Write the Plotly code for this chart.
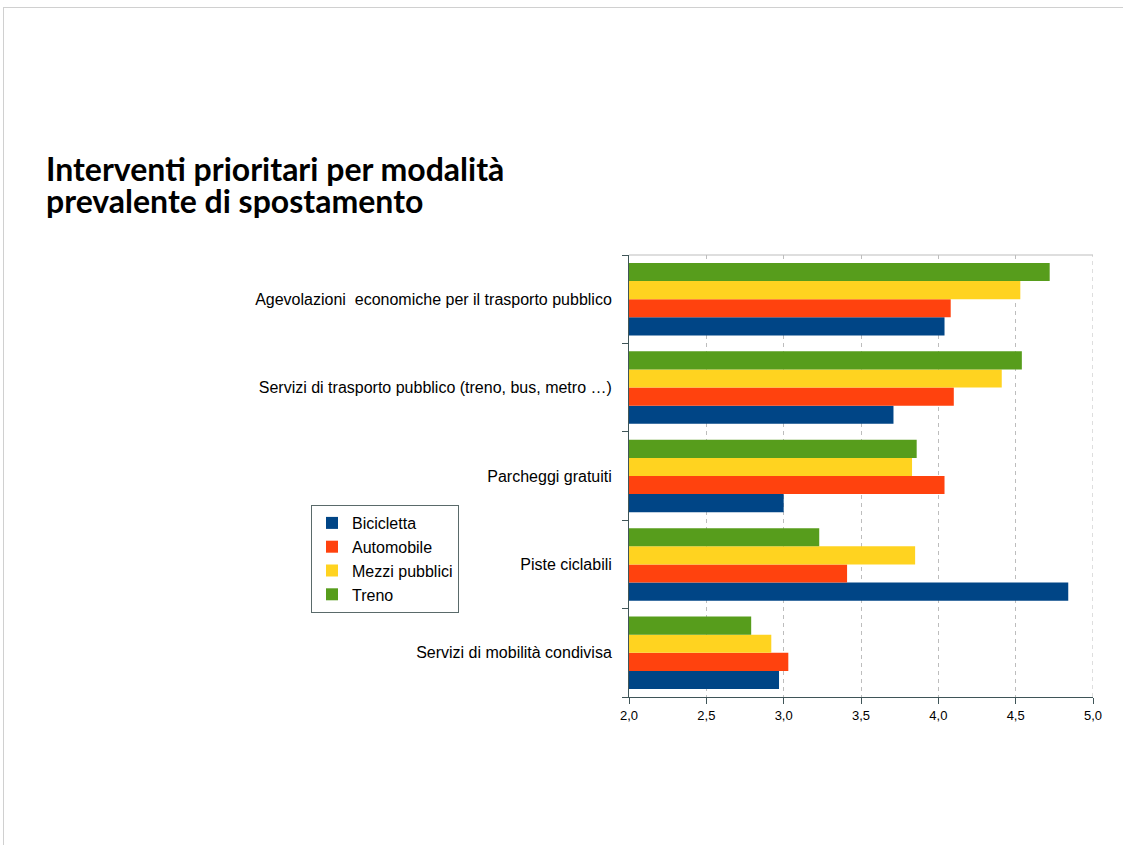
import plotly.graph_objects as go

categories = [
    "Agevolazioni  economiche per il trasporto pubblico",
    "Servizi di trasporto pubblico (treno, bus, metro …)",
    "Parcheggi gratuiti",
    "Piste ciclabili",
    "Servizi di mobilità condivisa",
]
series_names = ["Bicicletta", "Automobile", "Mezzi pubblici", "Treno"]
bicicletta = [4.04, 3.71, 3.00, 4.84, 2.97]
automobile = [4.08, 4.10, 4.04, 3.41, 3.03]
mezzi_pubblici = [4.53, 4.41, 3.83, 3.85, 2.92]
treno = [4.72, 4.54, 3.86, 3.23, 2.79]
colors = ["#004586", "#ff420e", "#ffd320", "#579d1c"]
x_ticks = [2.0, 2.5, 3.0, 3.5, 4.0, 4.5, 5.0]
title_lines = ["Interventi prioritari per modalità", "prevalente di spostamento"]

W, H = 1123, 845
L, R, T, B = 629, 1093, 255, 697

fig = go.Figure()
for i, (name, vals) in enumerate(zip(series_names, [bicicletta, automobile, mezzi_pubblici, treno])):
    fig.add_trace(go.Bar(
        x=vals, y=categories, orientation="h", name=name,
        marker=dict(color=colors[i], line=dict(width=0)),
        legendgroup=name,
    ))

def px_x(px):
    return (px - L) / (R - L)

def px_y(py):
    return (B - py) / (B - T)

grid_col = "#bdbdbd"

annotations = []
for k, line in enumerate(title_lines):
    annotations.append(dict(
        text=line, xref="paper", yref="paper", x=px_x(44), y=px_y(147 + 32 * k),
        xanchor="left", yanchor="top", align="left", showarrow=False,
        font=dict(family="Lato, sans-serif", size=32, color="#000000", weight="bold"),
    ))

fig.update_layout(
    width=W, height=H,
    margin=dict(l=L, r=W - R, t=T, b=H - B),
    paper_bgcolor="white", plot_bgcolor="white",
    barmode="group", bargap=0.18, bargroupgap=0,
    separators=",.",
    font=dict(family="Liberation Sans, Arial, sans-serif", color="#000000"),
    showlegend=True,
    legend=dict(
        x=px_x(311), y=px_y(505), xanchor="left", yanchor="top",
        xref="paper", yref="paper",
        bordercolor="#5a6a6a", borderwidth=1, bgcolor="white",
        font=dict(size=16, family="Liberation Sans, Arial, sans-serif"),
        traceorder="normal", itemwidth=30, tracegroupgap=4,
    ),
    xaxis=dict(
        range=[2, 5], tickvals=x_ticks, tickformat=".1f",
        showgrid=True, gridcolor=grid_col, griddash="4px,4px", gridwidth=1,
        showline=True, linecolor="#3f5558", linewidth=1,
        ticks="outside", ticklen=6, tickcolor="#3f5558",
        tickfont=dict(size=13), zeroline=False, fixedrange=True,
    ),
    yaxis=dict(
        type="category", categoryorder="array",
        categoryarray=list(reversed(categories)),
        showgrid=False, showline=True, linecolor="#3f5558", linewidth=1,
        ticks="outside", ticklen=6, tickcolor="#3f5558", tickson="boundaries",
        tickfont=dict(size=16), ticklabelstandoff=13, fixedrange=True,
    ),
    annotations=annotations,
    shapes=[
        dict(type="line", xref="paper", yref="paper", x0=0, x1=1, y0=1, y1=1,
             line=dict(color=grid_col, width=1)),
        dict(type="line", xref="x", yref="paper", x0=5, x1=5, y0=0, y1=1,
             line=dict(color=grid_col, width=1, dash="4px,4px")),
        dict(type="line", xref="paper", yref="paper", x0=px_x(3), x1=px_x(1123),
             y0=px_y(7.5), y1=px_y(7.5), line=dict(color="#d0d0d0", width=1)),
        dict(type="line", xref="paper", yref="paper", x0=px_x(3.5), x1=px_x(3.5),
             y0=px_y(7), y1=px_y(845), line=dict(color="#d0d0d0", width=1)),
    ],
)

fig.write_html("out.html")
